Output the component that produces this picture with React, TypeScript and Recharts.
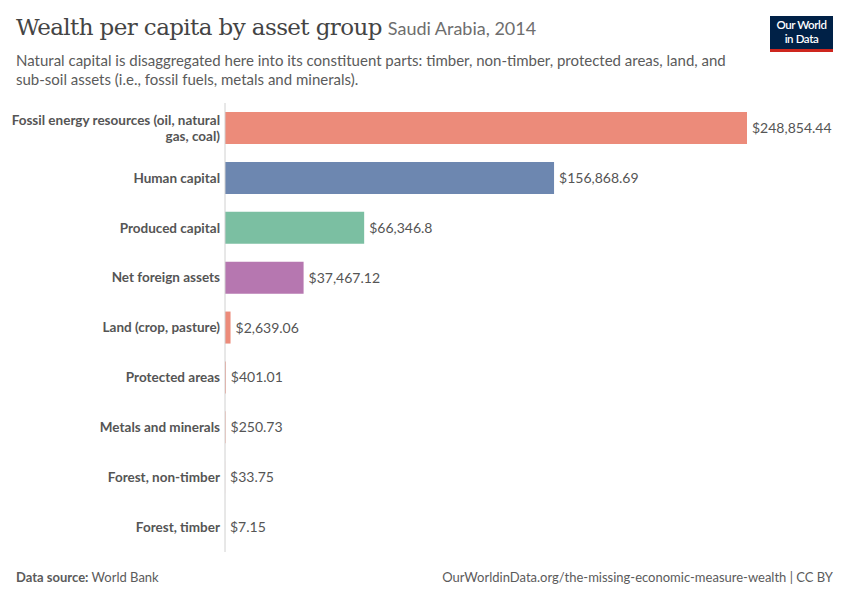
import { BarChart, Bar, XAxis, YAxis, Cell, LabelList, Text } from 'recharts';

const categories = [
  'Fossil energy resources (oil, natural gas, coal)',
  'Human capital',
  'Produced capital',
  'Net foreign assets',
  'Land (crop, pasture)',
  'Protected areas',
  'Metals and minerals',
  'Forest, non-timber',
  'Forest, timber',
];
const values = [248854.44, 156868.69, 66346.8, 37467.12, 2639.06, 401.01, 250.73, 33.75, 7.15];
const valueLabels = ['$248,854.44', '$156,868.69', '$66,346.8', '$37,467.12', '$2,639.06', '$401.01', '$250.73', '$33.75', '$7.15'];
const colors = ['#EC8B7A', '#6D87B0', '#7BBFA2', '#B677B0', '#EC8B7A', '#EC8B7A', '#EC8B7A', '#EC8B7A', '#EC8B7A'];

const data = categories.map((name, i) => ({ name, value: values[i], label: valueLabels[i] }));

const font = 'Lato, "Noto Sans", sans-serif';

function CategoryTick(props: any) {
  const { x, y, payload } = props;
  return (
    <Text
      x={x + 3}
      y={y}
      width={245}
      textAnchor="end"
      verticalAnchor="middle"
      fontFamily={font}
      fontSize={13.5}
      fontWeight={700}
      fill="#555"
      lineHeight="1.2em"
    >
      {payload.value}
    </Text>
  );
}

export default function App() {
  return (
    <div style={{ position: 'absolute', left: 0, top: 0, width: 850, height: 600, background: '#fff', fontFamily: font }}>
      <div style={{ position: 'absolute', left: 16, top: 14, whiteSpace: 'nowrap' }}>
        <span style={{ fontFamily: '"DejaVu Serif", "Liberation Serif", serif', fontSize: 23, color: '#444', letterSpacing: -0.6 }}>
          Wealth per capita by asset group
        </span>
        <span style={{ fontSize: 18, color: '#6e6e6e', marginLeft: 6 }}>Saudi Arabia, 2014</span>
      </div>
      <div style={{ position: 'absolute', left: 16, top: 51, fontSize: 15, lineHeight: '19px', color: '#5b5b5b', whiteSpace: 'nowrap' }}>
        Natural capital is disaggregated here into its constituent parts: timber, non-timber, protected areas, land, and
        <br />
        sub-soil assets (i.e., fossil fuels, metals and minerals).
      </div>
      <div
        style={{
          position: 'absolute', left: 770, top: 16, width: 63, height: 36, background: '#002147',
          borderBottom: '3px solid #CE261E', boxSizing: 'border-box', color: '#fff', fontSize: 11.5,
          fontWeight: 600, lineHeight: '14px', textAlign: 'center', paddingTop: 2, letterSpacing: -0.4,
        }}
      >
        Our World<br />in Data
      </div>
      <div style={{ position: 'absolute', left: 0, top: 0 }}>
        <BarChart
          width={850}
          height={600}
          layout="vertical"
          data={data}
          margin={{ top: 103, right: 103, bottom: 48, left: 0 }}
        >
          <XAxis type="number" hide domain={[0, 'dataMax']} />
          <YAxis
            type="category"
            dataKey="name"
            width={225}
            axisLine={{ stroke: '#d0d0d0' }}
            tickLine={false}
            tick={<CategoryTick />}
            interval={0}
          />
          <Bar dataKey="value" barSize={32} isAnimationActive={false}>
            {data.map((d, i) => (
              <Cell key={d.name} fill={colors[i]} />
            ))}
            <LabelList dataKey="label" position="right" offset={5} fill="#555" fontSize={14} fontFamily={font} />
          </Bar>
        </BarChart>
      </div>
      <div style={{ position: 'absolute', left: 16, top: 569, fontSize: 13, color: '#5b5b5b' }}>
        <b style={{ fontWeight: 700 }}>Data source:</b> World Bank
      </div>
      <div style={{ position: 'absolute', right: 17, top: 569, fontSize: 13, color: '#5b5b5b' }}>
        OurWorldinData.org/the-missing-economic-measure-wealth | CC BY
      </div>
    </div>
  );
}
